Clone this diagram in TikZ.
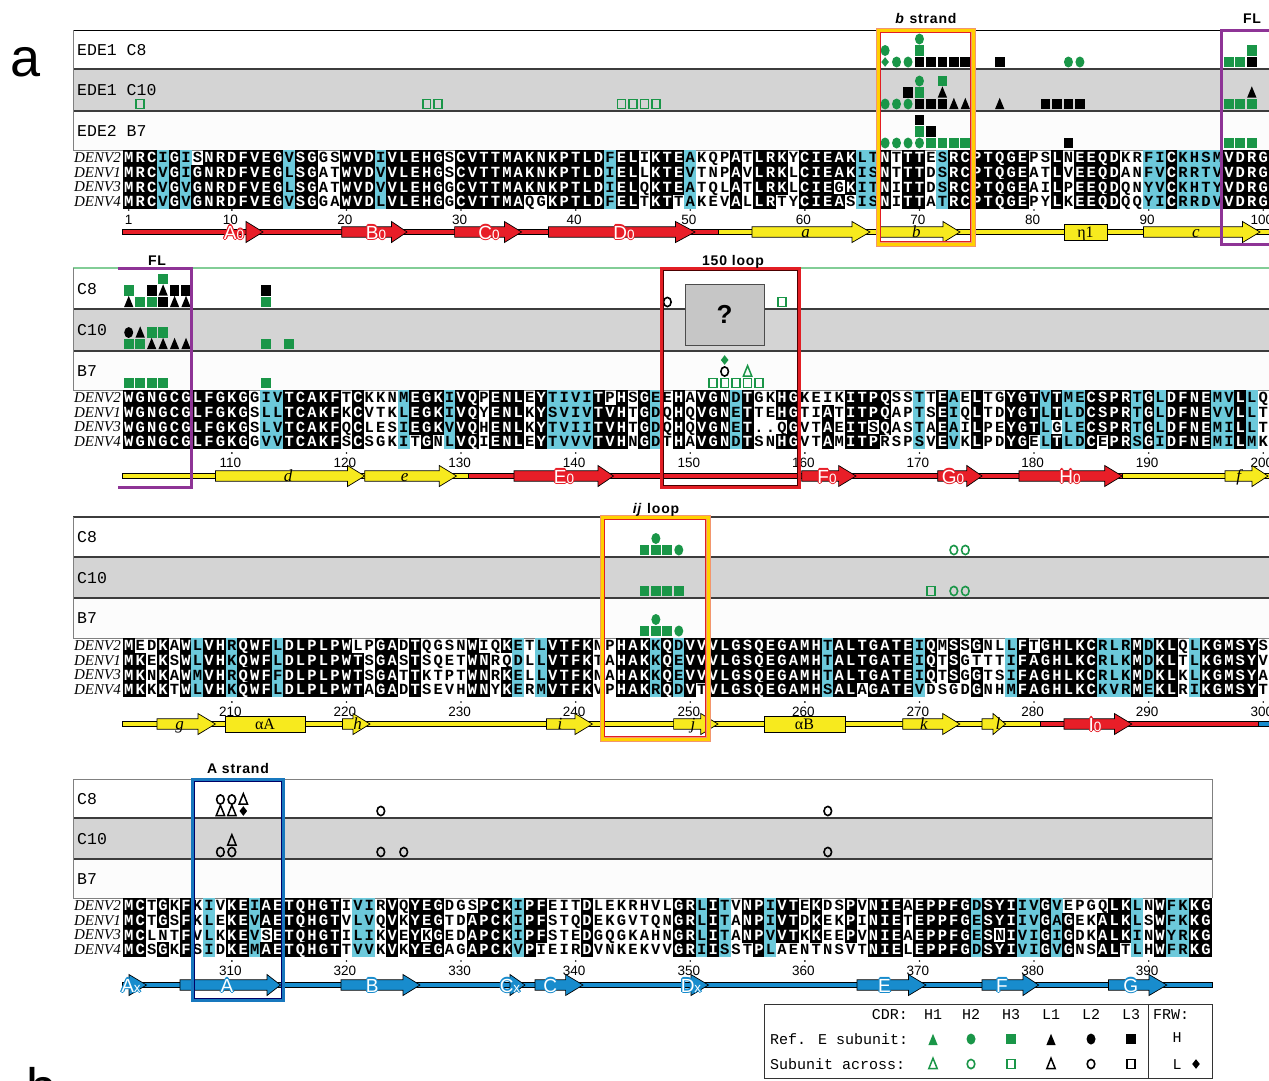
\documentclass[tikz,border=0pt]{standalone}
\usepackage{fontspec}
\setmainfont{Liberation Sans}
\newfontfamily\monof{Liberation Mono}
\newfontfamily\serf{Liberation Serif}
\definecolor{cyanb}{RGB}{108,201,219}
\definecolor{mgreen}{RGB}{26,150,72}
\definecolor{ssred}{RGB}{232,30,40}
\definecolor{ssyel}{RGB}{247,234,30}
\definecolor{ssblue}{RGB}{24,140,205}
\definecolor{panelgray}{RGB}{212,212,212}
\definecolor{panelwhite}{RGB}{252,252,252}
\definecolor{sepcol}{RGB}{60,60,60}
\definecolor{flpurple}{RGB}{142,52,150}
\definecolor{boxred}{RGB}{226,30,36}
\definecolor{boxyel}{RGB}{255,208,0}
\definecolor{boxsalmon}{RGB}{242,150,110}
\definecolor{boxblue}{RGB}{24,120,190}
\definecolor{topgreen}{RGB}{130,205,150}
\tikzset{
  seqch/.style={inner sep=0pt, anchor=base, font=\monof\bfseries\fontsize{15.5}{15.5}\selectfont},
  numlab/.style={inner sep=0pt, anchor=base, font=\fontsize{13.5}{13.5}\selectfont},
  denv/.style={inner sep=0pt, anchor=base east, font=\serf\itshape\fontsize{15}{15}\selectfont},
  plab/.style={inner sep=0pt, anchor=base west, font=\monof\fontsize{16.5}{16.5}\selectfont},
  boxlab/.style={inner sep=0pt, anchor=base, font=\bfseries\fontsize{14}{14}\selectfont\addfontfeatures{LetterSpace=6}},
  sslab/.style={inner sep=0pt, anchor=base, font=\fontsize{19}{19}\selectfont},
  yl/.style={inner sep=0pt, anchor=base, font=\serf\itshape\fontsize{17}{17}\selectfont},
  yg/.style={inner sep=0pt, anchor=base, font=\serf\fontsize{16}{16}\selectfont},
  lg/.style={inner sep=0pt, font=\monof\fontsize{15}{15}\selectfont},
  sepline/.style={sepcol, line width=1.8},
}
% ---------- sequence cells ----------
\newcommand\SqCell[4]{%
  \pgfmathsetmacro\sqcx{123+(#1-0.5)*11.46}%
  \pgfmathsetmacro\sqcy{\sqyo+(#2-0.5)*14.8}%
  \if k#3\fill[black] (\sqcx-6,\sqcy-7.6) rectangle (\sqcx+6,\sqcy+7.6);\fi
  \if c#3\fill[cyanb] (\sqcx-6,\sqcy-7.6) rectangle (\sqcx+6,\sqcy+7.6);\fi
  \if k#3\node[seqch,text=white] (q\sqblk-#1-#2) at (\sqcx,\sqcy+5) {#4};%
  \else\node[seqch] (q\sqblk-#1-#2) at (\sqcx,\sqcy+5) {#4};\fi
}
\ExplSyntaxOn
\str_new:N \l_sq_a_str
\str_new:N \l_sq_b_str
\str_new:N \l_sq_c_str
\str_new:N \l_sq_d_str
\clist_new:N \l_sq_cy_clist
\int_new:N \l_sq_cnt_int
\tl_new:N \l_sq_ch_tl
\tl_new:N \l_sq_mode_tl
\cs_new_protected:Npn \sq_cell:Nnn #1#2#3
  {
    \tl_set:Nx \l_sq_ch_tl { \str_item:Nn #1 {#2} }
    \int_zero:N \l_sq_cnt_int
    \str_if_eq:eeT { \l_sq_ch_tl } { \str_item:Nn \l_sq_a_str {#2} } { \int_incr:N \l_sq_cnt_int }
    \str_if_eq:eeT { \l_sq_ch_tl } { \str_item:Nn \l_sq_b_str {#2} } { \int_incr:N \l_sq_cnt_int }
    \str_if_eq:eeT { \l_sq_ch_tl } { \str_item:Nn \l_sq_c_str {#2} } { \int_incr:N \l_sq_cnt_int }
    \str_if_eq:eeT { \l_sq_ch_tl } { \str_item:Nn \l_sq_d_str {#2} } { \int_incr:N \l_sq_cnt_int }
    \str_if_eq:eeTF { \l_sq_ch_tl } { . }
      { \tl_set:Nn \l_sq_mode_tl { g } }
      {
        \clist_if_in:NnTF \l_sq_cy_clist {#2}
          { \tl_set:Nn \l_sq_mode_tl { c } }
          {
            \int_compare:nNnTF { \l_sq_cnt_int } > { 2 }
              { \tl_set:Nn \l_sq_mode_tl { k } }
              { \tl_set:Nn \l_sq_mode_tl { w } }
          }
      }
    \use:x { \exp_not:N \SqCell {#2} {#3} { \l_sq_mode_tl } { \l_sq_ch_tl } }
  }
\NewDocumentCommand \SeqBlock { m m m m m m m }
  {
    \str_set:Nn \l_sq_a_str {#4}
    \str_set:Nn \l_sq_b_str {#5}
    \str_set:Nn \l_sq_c_str {#6}
    \str_set:Nn \l_sq_d_str {#7}
    \clist_set:Nn \l_sq_cy_clist {#3}
    \tl_gset:Nn \sqblk {#1}
    \tl_gset:Nn \sqyo {#2}
    \int_step_inline:nn { \str_count:N \l_sq_a_str }
      {
        \sq_cell:Nnn \l_sq_a_str {##1} {1}
        \sq_cell:Nnn \l_sq_b_str {##1} {2}
        \sq_cell:Nnn \l_sq_c_str {##1} {3}
        \sq_cell:Nnn \l_sq_d_str {##1} {4}
      }
  }
\ExplSyntaxOff
% ---------- markers ----------
\newcommand\MkgS{\fill[mgreen] (-4.9,-5.2) rectangle (4.9,5.2);}
\newcommand\MkkS{\fill[black] (-4.9,-5.2) rectangle (4.9,5.2);}
\newcommand\MkgC{\fill[mgreen] (0,0) ellipse [x radius=4.5pt, y radius=5.5pt];}
\newcommand\MkkC{\fill[black] (0,0) ellipse [x radius=4.5pt, y radius=5.5pt];}
\newcommand\MkgT{\fill[mgreen] (-4.7,5.2) -- (4.7,5.2) -- (0,-6.2) -- cycle;}
\newcommand\MkkT{\fill[black] (-4.7,5.2) -- (4.7,5.2) -- (0,-6.2) -- cycle;}
\newcommand\MkgD{\fill[mgreen] (0,-4.8) -- (3.8,0) -- (0,4.8) -- (-3.8,0) -- cycle;}
\newcommand\MkkD{\fill[black] (0,-4.8) -- (3.8,0) -- (0,4.8) -- (-3.8,0) -- cycle;}
\newcommand\MkoGS{\draw[mgreen,line width=1.6] (-3.9,-4.4) rectangle (3.9,4.4);}
\newcommand\MkoKS{\draw[black,line width=1.6] (-3.9,-4.4) rectangle (3.9,4.4);}
\newcommand\MkoGC{\draw[mgreen,line width=1.6] (0,0) ellipse [x radius=3.8pt, y radius=4.6pt];}
\newcommand\MkoKC{\draw[black,line width=1.6] (0,0) ellipse [x radius=3.8pt, y radius=4.6pt];}
\newcommand\MkoGT{\draw[mgreen,line width=1.5,line join=miter] (-4.2,4.6) -- (4.2,4.6) -- (0,-5.8) -- cycle;}
\newcommand\MkoKT{\draw[black,line width=1.5,line join=miter] (-4.2,4.6) -- (4.2,4.6) -- (0,-5.8) -- cycle;}
\newcommand\Mk[4]{\begin{scope}[shift={({123+(#2-0.5)*11.46},{#3-7-11.5*(#4)})}]\csname Mk#1\endcsname\end{scope}}
\newcommand\MkAt[3]{\begin{scope}[shift={(#2,#3)}]\csname Mk#1\endcsname\end{scope}}
% ---------- panels ----------
\newcommand\Panel[9]{%
  \fill[white] (73,#1) rectangle (#5,#2);
  \fill[panelgray] (73,#2) rectangle (#5,#3);
  \fill[panelwhite] (73,#3) rectangle (#5,#4);
  \draw[#9] (73,#1) -- (#5,#1);
  \draw[sepline] (73,#2) -- (#5,#2);
  \draw[sepline] (73,#3) -- (#5,#3);
  \draw[gray,line width=0.8] (73,#1) -- (73,#4) -- (#5,#4);
  \node[plab] (pl#1a) at (77,{(#1+#2)/2+5.5}) {#6};
  \node[plab] (pl#1b) at (77,{(#2+#3)/2+5.5}) {#7};
  \node[plab] (pl#1c) at (77,{(#3+#4)/2+5.5}) {#8};
}
\newcommand\Denv[1]{%
  \node[denv] (dv#1a) at (121,#1+12.2) {DENV2};
  \node[denv] (dv#1b) at (121,#1+27) {DENV1};
  \node[denv] (dv#1c) at (121,#1+41.8) {DENV3};
  \node[denv] (dv#1d) at (121,#1+56.6) {DENV4};
}
\newcommand\Nums[3]{%
  \foreach \nc in {10,20,...,#3}{%
    \pgfmathtruncatemacro\nlab{\nc+#1-1}%
    \node[numlab] (num\nlab) at ({121.5+(\nc-0.5)*11.46},#2) {\nlab};
    \fill ({123+(\nc-0.5)*11.46},#2-14) circle (0.9pt);
  }}
% ---------- secondary structure ----------
\newcommand\SSthin[4]{\filldraw[fill=#4,draw=black,line width=0.7] (#1,#3-2.3) rectangle (#2,#3+2.3);}
\newcommand\SSstr[5]{\filldraw[fill=#5,draw=black,line width=0.7,line join=miter] (#1,#4-5.2) -- (#2,#4-5.2) -- (#2,#4-10.5) -- (#3,#4) -- (#2,#4+10.5) -- (#2,#4+5.2) -- (#1,#4+5.2) -- cycle;}
\newcommand\SShel[4]{\filldraw[fill=#4,draw=black,line width=0.7] (#1,#3-8) rectangle (#2,#3+8);}
\newcommand\OL[5]{\foreach \ang in {0,45,...,315}{\node[sslab,text=#4,shift={(\ang:1.1)}] at (#2,#3) {#5};}\node[sslab,text=white] (#1) at (#2,#3) {#5};}
\newcommand\zs[1]{{\fontsize{13.5}{13.5}\selectfont #1}}

\begin{document}
\begin{tikzpicture}[x=1pt,y=-1pt]
\useasboundingbox (0,0) rectangle (1269,1080);
\fill[white] (0,0) rectangle (1269,1080);
\node[inner sep=0pt, anchor=base west, font=\fontsize{54}{54}\selectfont] (pa) at (10,76) {a};
\node[inner sep=0pt, anchor=base west, font=\fontsize{54}{54}\selectfont] (pb) at (26,1106) {b};

% ===== panels =====
\Panel{30}{69}{111}{150}{1275}{EDE1 C8}{EDE1 C10}{EDE2 B7}{black,line width=0.9}
\Panel{268}{309}{351}{390}{1275}{C8}{C10}{B7}{topgreen,line width=1.2}
\Panel{517}{557}{598}{638}{1275}{C8}{C10}{B7}{sepcol,line width=1.6}
\Panel{779}{818}{859}{898}{1212}{C8}{C10}{B7}{gray,line width=0.9}
\draw[gray,line width=0.8] (1212,779) -- (1212,898);

% ===== sequences =====
\Denv{150}\Denv{390}\Denv{638}\Denv{898}
\SeqBlock{1}{150}{4,6,15,23,43,50,65,66,72,90,91,93,94,95,96}
{MRCIGISNRDFVEGVSGGSWVDIVLEHGSCVTTMAKNKPTLDFELIKTEAKQPATLRKYCIEAKLTNTTTESRCPTQGEPSLNEEQDKRFICKHSMVDRG}
{MRCVGIGNRDFVEGLSGATWVDVVLEHGSCVTTMAKNKPTLDIELLKTEVTNPAVLRKLCIEAKISNTTTDSRCPTQGEATLVEEQDANFVCRRTVVDRG}
{MRCVGVGNRDFVEGLSGATWVDVVLEHGGCVTTMAKNKPTLDIELQKTEATQLATLRKLCIEGKITNITTDSRCPTQGEAILPEEQDQNYVCKHTYVDRG}
{MRCVGVGNRDFVEGVSGGAWVDLVLEHGGCVTTMAQGKPTLDFELTKTTAKEVALLRTYCIEASISNITTATRCPTQGEPYLKEEQDQQYICRRDVVDRG}
\SeqBlock{2}{390}{13,14,25,29,38,39,40,41,47,54,70,73,81,83,84,89,91,96,97,99}
{WGNGCGLFGKGGIVTCAKFTCKKNMEGKIVQPENLEYTIVITPHSGEEHAVGNDTGKHGKEIKITPQSSTTEAELTGYGTVTMECSPRTGLDFNEMVLLQ}
{WGNGCGLFGKGSLLTCAKFKCVTKLEGKIVQYENLKYSVIVTVHTGDQHQVGNETTEHGTIATITPQAPTSEIQLTDYGTLTLDCSPRTGLDFNEVVLLT}
{WGNGCGLFGKGSLVTCAKFQCLESIEGKVVQHENLKYTVIITVHTGDQHQVGNET..QGVTAEITSQASTAEAILPEYGTLGLECSPRTGLDFNEMILLT}
{WGNGCGLFGKGGVVTCAKFSCSGKITGNLVQIENLEYTVVVTVHNGDTHAVGNDTSNHGVTAMITPRSPSVEVKLPDYGELTLDCEPRSGIDFNEMILMK}
\SeqBlock{3}{638}{7,10,14,35,37,47,49,62,70,78,86,87,88,90,94}
{MEDKAWLVHRQWFLDLPLPWLPGADTQGSNWIQKETLVTFKNPHAKKQDVVVLGSQEGAMHTALTGATEIQMSSGNLLFTGHLKCRLRMDKLQLKGMSYS}
{MKEKSWLVHKQWFLDLPLPWTSGASTSQETWNRQDLLVTFKTAHAKKQEVVVLGSQEGAMHTALTGATEIQTSGTTTIFAGHLKCRLKMDKLTLKGMSYV}
{MKNKAWMVHRQWFFDLPLPWTSGATTKTPTWNRKELLVTFKNAHAKKQEVVVLGSQEGAMHTALTGATEIQTSGGTSIFAGHLKCRLKMDKLKLKGMSYA}
{MKKKTWLVHKQWFLDLPLPWTAGADTSEVHWNYKERMVTFKVPHAKRQDVTVLGSQEGAMHSALAGATEVDSGDGNHMFAGHLKCKVRMEKLRIKGMSYT}
\SeqBlock{4}{898}{8,12,21,22,35,51,53,57,75,79,80,82,89,92,93}
{MCTGKFKIVKEIAETQHGTIVIRVQYEGDGSPCKIPFEITDLEKRHVLGRLITVNPIVTEKDSPVNIEAEPPFGDSYIIVGVEPGQLKLNWFKKG}
{MCTGSFKLEKEVAETQHGTVLVQVKYEGTDAPCKIPFSTQDEKGVTQNGRLITANPIVTDKEKPINIETEPPFGESYIIVGAGEKALKLSWFKKG}
{MCLNTFVLKKEVSETQHGTILIKVEYKGEDAPCKIPFSTEDGQGKAHNGRLITANPVVTKKEEPVNIEAEPPFGESNIVIGIGDKALKINWYRKG}
{MCSGKFSIDKEMAETQHGTTVVKVKYEGAGAPCKVPIEIRDVNKEKVVGRIISSTPLAENTNSVTNIELEPPFGDSYIVIGVGNSALTLHWFRKG}

% ===== numbering =====
\node[numlab] (num1) at (128.7,224) {1};
\fill (128.7,210) circle (0.9pt);
\Nums{1}{224}{100}
\Nums{101}{467}{100}
\Nums{201}{716}{100}
\Nums{301}{975}{90}

% ===== secondary structure block 1 =====
\SSthin{122}{718}{232}{ssred}
\SSthin{718}{1275}{232}{ssyel}
\SSstr{246}{246}{263}{232}{ssred}
\SSstr{341.7}{391.5}{407}{232}{ssred}
\SSstr{454.6}{504.4}{521.6}{232}{ssred}
\SSstr{548.4}{675.5}{695}{232}{ssred}
\SSstr{752}{852}{870}{232}{ssyel}
\SSstr{879}{943}{960}{232}{ssyel}
\SShel{1064}{1107}{232}{ssyel}
\SSstr{1143.5}{1242.5}{1260}{232}{ssyel}
\OL{lA0}{234}{239}{ssred}{A\zs{0}}
\OL{lB0}{376}{239}{ssred}{B\zs{0}}
\OL{lC0}{489}{239}{ssred}{C\zs{0}}
\OL{lD0}{624}{239}{ssred}{D\zs{0}}
\node[yl] (la) at (805.6,237.5) {a};
\node[yl] (lb) at (916.3,237.5) {b};
\node[yg] (leta) at (1085.5,237.5) {η1};
\node[yl] (lc) at (1196,237.5) {c};

% ===== secondary structure block 2 =====
\SSthin{122}{468}{476}{ssyel}
\SSthin{468}{1122}{476}{ssred}
\SSthin{1122}{1275}{476}{ssyel}
\SSstr{215.4}{347.5}{364.7}{476}{ssyel}
\SSstr{364.7}{439.3}{456.5}{476}{ssyel}
\SSstr{514}{598}{613.5}{476}{ssred}
\SSstr{801.7}{838.6}{856}{476}{ssred}
\SSstr{937.7}{966.8}{982}{476}{ssred}
\SSstr{1019}{1104.7}{1122}{476}{ssred}
\SSstr{1225}{1252}{1268}{476}{ssyel}
\node[yl] (ld) at (288,481.5) {d};
\node[yl] (le) at (404.6,481.5) {e};
\OL{lE0}{564}{483}{ssred}{E\zs{0}}
\OL{lF0}{827}{483}{ssred}{F\zs{0}}
\OL{lG0}{953}{483}{ssred}{G\zs{0}}
\OL{lH0}{1070}{483}{ssred}{H\zs{0}}
\node[yl] (lf) at (1238.7,481.5) {f};

% ===== secondary structure block 3 =====
\SSthin{122}{1040}{724}{ssyel}
\SSthin{1040}{1258}{724}{ssred}
\SSthin{1258}{1275}{724}{ssblue}
\SSstr{157}{198}{215.4}{724}{ssyel}
\SShel{225}{305.4}{724}{ssyel}
\SSstr{342.5}{353}{370}{724}{ssyel}
\SSstr{546.5}{575}{592.4}{724}{ssyel}
\SSstr{673.6}{700.8}{718}{724}{ssyel}
\SShel{764}{845.6}{724}{ssyel}
\SSstr{902.7}{942.7}{959.8}{724}{ssyel}
\SSstr{982}{993}{1005.6}{724}{ssyel}
\SSstr{1064}{1114.4}{1131.8}{724}{ssred}
\node[yl] (lg) at (179.5,729.5) {g};
\node[yg] (lalA) at (265,729.5) {αA};
\node[yl] (lh) at (357.7,729.5) {h};
\node[yl] (li) at (560,729.5) {i};
\node[yl] (lj) at (693,729.5) {j};
\node[yg] (lalB) at (804.5,729.5) {αB};
\node[yl] (lk) at (924,729.5) {k};
\node[yl] (ll) at (998,729.5) {l};
\OL{lI0}{1095}{731}{ssred}{I\zs{0}}

% ===== secondary structure block 4 =====
\SSthin{122}{1212}{985}{ssblue}
\SSstr{129}{129}{146.5}{985}{ssblue}
\SSstr{180}{267}{280.5}{985}{ssblue}
\SSstr{341}{403}{420}{985}{ssblue}
\SSstr{510}{510}{525}{985}{ssblue}
\SSstr{535}{565.6}{583}{985}{ssblue}
\SSstr{691}{691}{708.5}{985}{ssblue}
\SSstr{857}{908.5}{926}{985}{ssblue}
\SSstr{982}{1023}{1038.6}{985}{ssblue}
\SSstr{1108.5}{1149}{1166.8}{985}{ssblue}
\OL{lAx}{131}{992}{ssblue}{A\zs{x}}
\OL{lA}{227}{992}{ssblue}{A}
\OL{lB}{372.3}{992}{ssblue}{B}
\OL{lCx}{510}{992}{ssblue}{C\zs{x}}
\OL{lC}{550.3}{992}{ssblue}{C}
\OL{lDx}{691}{992}{ssblue}{D\zs{x}}
\OL{lE}{884.5}{992}{ssblue}{E}
\OL{lF}{1001.8}{992}{ssblue}{F}
\OL{lG}{1130.8}{992}{ssblue}{G}

% ===== markers block 1 =====
\foreach \ms/\mc/\ml in {gD/67/0,gC/68/0,gC/69/0,kS/70/0,kS/71/0,kS/72/0,kS/73/0,kS/74/0,gC/67/1,gS/70/1,gC/70/2,kS/77/0,gC/83/0,gC/84/0,gS/97/0,gS/98/0,kS/99/0,gS/99/1}{\Mk{\ms}{\mc}{69}{\ml}}
\foreach \ms/\mc/\ml in {oGS/2/0,oGS/27/0,oGS/28/0,oGS/44/0,oGS/45/0,oGS/46/0,oGS/47/0,gC/67/0,gC/68/0,gC/69/0,kS/70/0,kS/71/0,kS/72/0,kT/73/0,kT/74/0,kS/69/1,gS/70/1,kT/72/1,gC/70/2,gS/72/2,kT/77/0,kS/81/0,kS/82/0,kS/83/0,kS/84/0,gS/97/0,gS/98/0,gS/99/0,kT/99/1}{\Mk{\ms}{\mc}{111}{\ml}}
\foreach \ms/\mc/\ml in {gC/67/0,gC/68/0,gC/69/0,gC/70/0,gS/71/0,gS/72/0,gS/73/0,gS/74/0,gS/70/1,kS/71/1,kS/70/2,kS/83/0,gS/97/0,gS/98/0,gS/99/0}{\Mk{\ms}{\mc}{150}{\ml}}
% ===== markers block 2 =====
\foreach \ms/\mc/\ml in {gS/4/2,gS/1/1,kS/3/1,kT/4/1,kS/5/1,kS/6/1,kT/1/0,gS/2/0,gS/3/0,kS/4/0,kT/5/0,kT/6/0,kS/13/1,gS/13/0,oKC/48/0,oGS/58/0}{\Mk{\ms}{\mc}{309}{\ml}}
\foreach \ms/\mc/\ml in {kC/1/1,kT/2/1,gS/3/1,gS/4/1,gS/1/0,gS/2/0,kT/3/0,kT/4/0,kT/5/0,kT/6/0,gS/13/0,gS/15/0}{\Mk{\ms}{\mc}{351}{\ml}}
\foreach \ms/\mc/\ml in {gS/1/0,gS/2/0,gS/3/0,gS/4/0,gS/13/0,gD/53/2,oKC/53/1,oGT/55/1,oGS/52/0,oGS/53/0,oGS/54/0,oGS/55/0,oGS/56/0}{\Mk{\ms}{\mc}{390}{\ml}}
% ===== markers block 3 =====
\foreach \ms/\mc/\ml in {gC/47/1,gS/46/0,gS/47/0,gS/48/0,gC/49/0,oGC/73/0,oGC/74/0}{\Mk{\ms}{\mc}{557}{\ml}}
\foreach \ms/\mc/\ml in {gS/46/0,gS/47/0,gS/48/0,gS/49/0,oGS/71/0,oGC/73/0,oGC/74/0}{\Mk{\ms}{\mc}{598}{\ml}}
\foreach \ms/\mc/\ml in {gC/47/1,gS/46/0,gS/47/0,gS/48/0,gC/49/0}{\Mk{\ms}{\mc}{638}{\ml}}
% ===== markers block 4 =====
\foreach \ms/\mc/\ml in {oKC/9/1,oKC/10/1,oKT/11/1,oKT/9/0,oKT/10/0,kD/11/0,oKC/23/0,oKC/62/0}{\Mk{\ms}{\mc}{818}{\ml}}
\foreach \ms/\mc/\ml in {oKT/10/1,oKC/9/0,oKC/10/0,oKC/23/0,oKC/25/0,oKC/62/0}{\Mk{\ms}{\mc}{859}{\ml}}

% ===== highlight boxes =====
% b strand
\draw[boxsalmon,line width=5] (878,30) rectangle (973,244);
\draw[boxyel,line width=3] (878,30) rectangle (973,244);
\draw[boxred,line width=0.8] (880.8,32.8) rectangle (970.2,241.2);
\node[boxlab] (tbs) at (926,23) {\textit{b} strand};
% FL block 1
\draw[flpurple,line width=3] (1280,30) -- (1221.5,30) -- (1221.5,244) -- (1280,244);
\node[boxlab] (tfl1) at (1252,23) {FL};
% FL block 2
\draw[flpurple,line width=3] (118,268) -- (191.5,268) -- (191.5,487) -- (118,487);
\node[boxlab] (tfl2) at (157,265) {FL};
% 150 loop
\draw[boxred,line width=3] (661,268) rectangle (799,487);
\draw[black!70!red,line width=0.6] (663,270) rectangle (797,485);
\node[draw=black!70,line width=1,fill=gray!45,minimum width=79pt,minimum height=61pt,inner sep=0pt,font=\bfseries\fontsize{26}{26}\selectfont] (qbox) at (724.5,314.5) {?};
\node[boxlab] (t150) at (733,265) {150 loop};
% ij loop
\draw[boxsalmon,line width=5] (602,517) rectangle (708,739);
\draw[boxyel,line width=3] (602,517) rectangle (708,739);
\draw[boxred,line width=0.8] (604.8,519.8) rectangle (705.2,736.2);
\node[boxlab] (tij) at (656,513) {\textit{ij} loop};
% A strand
\draw[boxblue,line width=3] (192,779) rectangle (283,1000);
\draw[black!60!blue,line width=0.6] (194,781) rectangle (281,998);
\node[boxlab] (tas) at (238,773) {A strand};

% ===== legend =====
\draw[gray!40!black,line width=0.9] (764,1004) rectangle (1212,1078);
\draw[gray!40!black,line width=0.9] (1148,1004) -- (1148,1078);
\node[lg,anchor=base east] (cdr) at (908,1019) {CDR:};
\foreach \t/\x in {H1/933,H2/971,H3/1011,L1/1051,L2/1091,L3/1131}{\node[lg,anchor=base] (lg\t) at (\x,1019) {\t};}
\node[lg,anchor=base west] (ref) at (770,1044) {Ref. E subunit:};
\node[lg,anchor=base west] (acr) at (770,1069) {Subunit across:};
\MkAt{gT}{933}{1040}\MkAt{gC}{971}{1039}\MkAt{gS}{1011}{1039}
\MkAt{kT}{1051}{1040}\MkAt{kC}{1091}{1039}\MkAt{kS}{1131}{1039}
\MkAt{oGT}{933}{1064}\MkAt{oGC}{971}{1064}\MkAt{oGS}{1011}{1064}
\MkAt{oKT}{1051}{1064}\MkAt{oKC}{1091}{1064}\MkAt{oKS}{1131}{1064}
\node[lg,anchor=base west] (frw) at (1153,1019) {FRW:};
\node[lg,anchor=base] (frwh) at (1177,1042) {H};
\node[lg,anchor=base] (frwl) at (1177,1069) {L};
\MkAt{kD}{1196}{1064}
\end{tikzpicture}
\end{document}
